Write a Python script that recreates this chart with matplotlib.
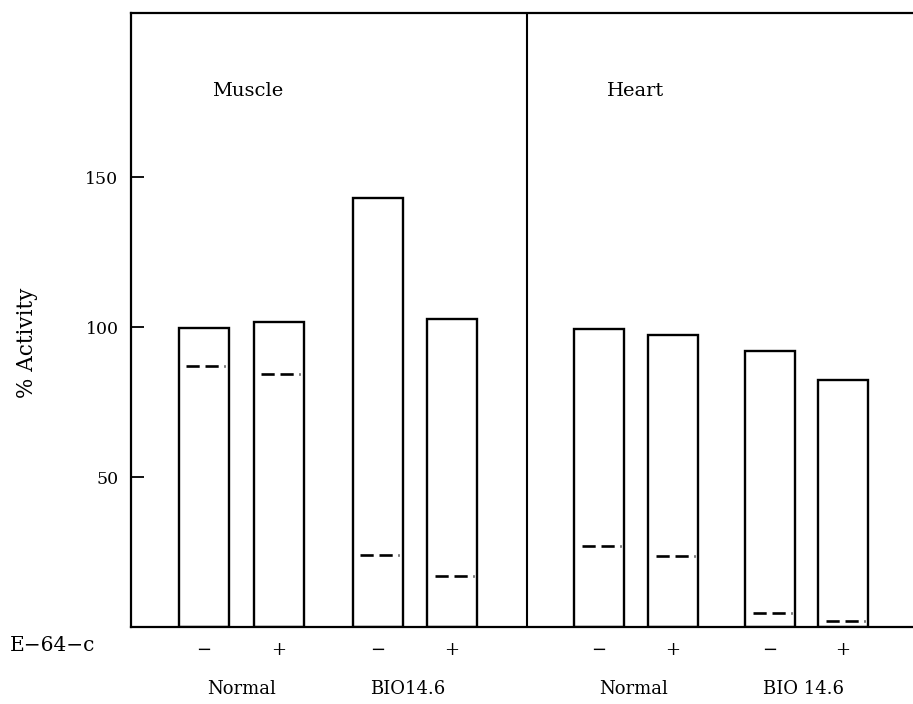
import matplotlib.pyplot as plt

plt.rcParams['font.family'] = ['DejaVu Serif']

# data (% activity)
conditions = ['Normal', 'BIO14.6', 'Normal', 'BIO 14.6']
e64c = ['\u2212', '+', '\u2212', '+', '\u2212', '+', '\u2212', '+']
total_activity = [99.8, 101.6, 143.1, 102.7, 99.2, 97.4, 92.0, 82.4]
dashed_level = [86.9, 84.3, 23.9, 17.1, 27.0, 23.6, 4.6, 2.1]
yticks = [50, 100, 150]

# layout (bar width = 1 unit)
xpos = [1.45, 2.95, 4.93, 6.42, 9.36, 10.84, 12.78, 14.24]
group_x = [2.22, 5.54, 10.05, 13.45]
divider = 7.92
bw = 1.0

fig = plt.figure(figsize=(9.13, 7.04), dpi=100)
ax = fig.add_axes([0.1435, 0.1094, 0.8565, 0.8721])

ax.bar(xpos, total_activity, width=bw, facecolor='white', edgecolor='black', linewidth=1.7)

# dashed levels inside each bar
for x, d in zip(xpos, dashed_level):
    ax.plot([x - bw / 2 + 0.15, x + bw / 2 - 0.07], [d, d], color='black',
            linewidth=1.9, linestyle=(0, (5, 2.2)))

ax.axvline(divider, color='black', linewidth=1.5)

ax.set_xlim(0, 15.64)
ax.set_ylim(0, 204.7)
ax.set_yticks(yticks)
ax.set_yticklabels([str(t) for t in yticks], fontsize=12.5)
ax.tick_params(axis='y', direction='in', length=9, width=1.3, pad=9)
ax.set_xticks([])
ax.spines['right'].set_visible(False)
for s in ['left', 'bottom', 'top']:
    ax.spines[s].set_linewidth(1.6)

ax.set_ylabel('% Activity', fontsize=15.5)
ax.yaxis.set_label_coords(-0.119, 0.4625)

ax.text(1.62, 178.7, 'Muscle', fontsize=14, va='center', ha='left')
ax.text(9.52, 178.7, 'Heart', fontsize=14, va='center', ha='left')

# E-64-c row and group names below axis
ax.text(-2.42, -8, 'E\u221264\u2212c', fontsize=14.5,
        va='baseline', ha='left', clip_on=False)
for x, s in zip(xpos, e64c):
    ax.text(x, -7.7, s, fontsize=13, va='center', ha='center', clip_on=False)
for x, s in zip(group_x, conditions):
    ax.text(x, -20.8, s, fontsize=13, va='center', ha='center', clip_on=False)

fig.savefig('out.png', dpi=100)
